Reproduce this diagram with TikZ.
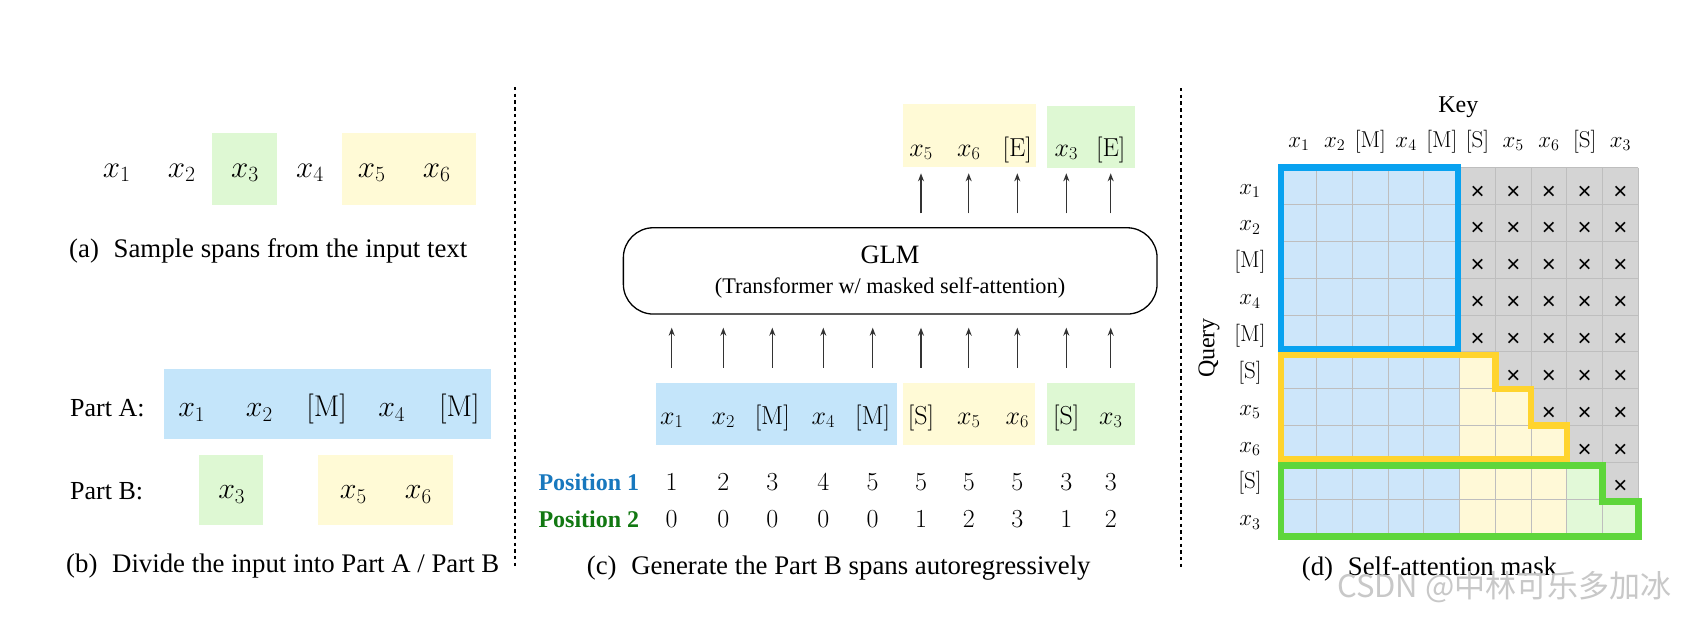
\RequirePackage{fix-cm}
\documentclass[tikz,border=0pt]{standalone}
\usepackage[no-math]{fontspec}
\setmainfont{Liberation Serif}
\newfontfamily\sansx{Liberation Sans}
\newfontfamily\cjk{Noto Sans CJK SC}
\usetikzlibrary{arrows.meta,calc}
\newcommand{\fsz}[1]{\fontsize{#1}{#1}\selectfont}
\definecolor{boxblue}{HTML}{C4E5FA}
\definecolor{boxyellow}{HTML}{FFFAD6}
\definecolor{boxgreen}{HTML}{DEF8D3}
\definecolor{cellblue}{HTML}{CDE6FA}
\definecolor{cellyellow}{HTML}{FFF9D7}
\definecolor{cellgreen}{HTML}{E2F9D8}
\definecolor{cellgray}{HTML}{D4D4D4}
\definecolor{gridline}{HTML}{BEBEBE}
\definecolor{bordblue}{HTML}{08A2F0}
\definecolor{bordyellow}{HTML}{FFD42E}
\definecolor{bordgreen}{HTML}{5ED63B}
\definecolor{posblue}{HTML}{1878BE}
\definecolor{posgreen}{HTML}{127812}
\definecolor{wm}{HTML}{C8C8C8}
\tikzset{
  tokA/.style={inner sep=0pt, anchor=base, font=\fsz{31}},
  tokB/.style={inner sep=0pt, anchor=base, font=\fsz{30}},
  tokC/.style={inner sep=0pt, anchor=base, font=\fsz{26}},
  tokD/.style={inner sep=0pt, anchor=base, font=\fsz{23}},
  txt/.style={inner sep=0pt, anchor=base west, font=\fsz{26.8}},
  postxt/.style={inner sep=0pt, anchor=base west, font=\fsz{24}\bfseries},
  arr/.style={-{Stealth[length=8pt,width=6pt]}, line width=1.3pt, black!80},
  dotline/.style={line width=2.2pt, dash pattern=on 3.4pt off 3.3pt},
  glmbox/.style={draw, rounded corners=30pt, line width=1.3pt, inner sep=0pt},
  xmark/.style={inner sep=0pt, anchor=base, font=\sansx\fsz{24}},
  gridl/.style={gridline, line width=1pt},
  bord/.style={line width=6.6pt, line join=miter}
}
\begin{document}
\begin{tikzpicture}[x=1pt,y=-1pt]
\useasboundingbox (0,0) rectangle (1694,616);
\fill[white] (0,0) rectangle (1694,616);

% ---------------- panel (a)
\fill[boxgreen] (211.7,133.3) rectangle (276.7,205);
\fill[boxyellow] (341.7,133.3) rectangle (476,205);
\node[tokA] (a1) at (116.7,177) {$x_1$};
\node[tokA] (a2) at (181.7,177) {$x_2$};
\node[tokA] (a3) at (245,177) {$x_3$};
\node[tokA] (a4) at (310,177) {$x_4$};
\node[tokA] (a5) at (371.7,177) {$x_5$};
\node[tokA] (a6) at (436.7,177) {$x_6$};
\node[txt] (capa) at (69,257) {(a)\hspace{0.55em}Sample spans from the input text};

% ---------------- panel (b)
\fill[boxblue] (164,369.3) rectangle (490.7,439.3);
\fill[boxgreen] (199,455) rectangle (263.3,525);
\fill[boxyellow] (318.3,455) rectangle (453.3,525);
\node[txt, font=\fsz{26}] (partA) at (70,416.5) {Part A:};
\node[tokB] (b1) at (191.7,416.5) {$x_1$};
\node[tokB] (b2) at (259.3,416.5) {$x_2$};
\node[tokB] (b3) at (326.7,416.5) {$[\mathrm{M}]$};
\node[tokB] (b4) at (391.7,416.5) {$x_4$};
\node[tokB] (b5) at (459.3,416.5) {$[\mathrm{M}]$};
\node[txt, font=\fsz{26}] (partB) at (70,499) {Part B:};
\node[tokB] (b6) at (231.7,498.5) {$x_3$};
\node[tokB] (b7) at (353.3,498.5) {$x_5$};
\node[tokB] (b8) at (418.3,498.5) {$x_6$};
\node[txt] (capb) at (66,572) {(b)\hspace{0.55em}Divide the input into Part A / Part B};

% separators
\draw[dotline] (515,87) -- (515,567);
\draw[dotline] (1181,88) -- (1181,568);

% ---------------- panel (c)
\fill[boxyellow] (903.3,104.3) rectangle (1036,166.7);
\fill[boxgreen] (1047.3,106) rectangle (1134.5,167.7);
\node[tokC] (o1) at (921,156) {$x_5$};
\node[tokC] (o2) at (968.7,156) {$x_6$};
\node[tokC] (o3) at (1017.3,156) {$[\mathrm{E}]$};
\node[tokC] (o4) at (1066.3,156) {$x_3$};
\node[tokC] (o5) at (1110.7,156) {$[\mathrm{E}]$};

\node[glmbox, minimum width=533.7pt, minimum height=86.3pt] (glm) at (890.2,270.9) {};
\node[inner sep=0pt, anchor=base, font=\fsz{26.5}] (glmt) at (890,263.3) {GLM};
\node[inner sep=0pt, anchor=base, font=\fsz{22.3}] (glms) at (890,293.3) {(Transformer w/ masked self-attention)};

\coordinate (upB) at (0,213.3);
\coordinate (upT) at (0,173.3);
\foreach \n in {o1,o2,o3,o4,o5}{
  \draw[arr] (\n |- upB) -- (\n |- upT);
}

\fill[boxblue] (656,383.3) rectangle (896.7,445);
\fill[boxyellow] (903.3,383.3) rectangle (1035,445);
\fill[boxgreen] (1046.7,383.3) rectangle (1134.7,445);
\foreach \i/\x/\t in {1/671.7/x_1, 2/723.3/x_2, 3/772.3/[\mathrm{M}], 4/823.3/x_4, 5/872.7/[\mathrm{M}],
                      6/921/[\mathrm{S}], 7/968.7/x_5, 8/1017.3/x_6, 9/1066.3/[\mathrm{S}], 10/1110.7/x_3}{
  \node[tokC] (i\i) at (\x,424) {$\t$};
}
\coordinate (loB) at (0,367.7);
\coordinate (loT) at (0,327.7);
\foreach \n in {1,...,10}{
  \draw[arr] (i\n |- loB) -- (i\n |- loT);
}

\node[postxt, text=posblue] (pos1) at (538.3,490) {Position 1};
\node[postxt, text=posgreen] (pos2) at (538.3,527) {Position 2};
\foreach \i/\p/\q in {1/1/0, 2/2/0, 3/3/0, 4/4/0, 5/5/0, 6/5/1, 7/5/2, 8/5/3, 9/3/1, 10/3/2}{
  \node[tokC] (p\i) at (i\i |- pos1.base) {$\p$};
  \node[tokC] (q\i) at (i\i |- pos2.base) {$\q$};
}
\node[txt] (capc) at (586.7,574) {(c)\hspace{0.55em}Generate the Part B spans autoregressively};

% ---------------- panel (d)
\def\gx{1281}\def\gw{35.73}\def\gy{167.7}\def\gh{36.85}
\fill[cellblue] (\gx,\gy) rectangle ({\gx+5*\gw},{\gy+10*\gh});
\fill[cellgray] ({\gx+5*\gw},\gy) rectangle ({\gx+10*\gw},{\gy+10*\gh});
\fill[cellyellow] ({\gx+5*\gw},{\gy+5*\gh}) -- ({\gx+6*\gw},{\gy+5*\gh}) -- ({\gx+6*\gw},{\gy+6*\gh})
  -- ({\gx+7*\gw},{\gy+6*\gh}) -- ({\gx+7*\gw},{\gy+7*\gh}) -- ({\gx+8*\gw},{\gy+7*\gh})
  -- ({\gx+8*\gw},{\gy+10*\gh}) -- ({\gx+5*\gw},{\gy+10*\gh}) -- cycle;
\fill[cellgreen] ({\gx+8*\gw},{\gy+8*\gh}) -- ({\gx+9*\gw},{\gy+8*\gh}) -- ({\gx+9*\gw},{\gy+9*\gh})
  -- ({\gx+10*\gw},{\gy+9*\gh}) -- ({\gx+10*\gw},{\gy+10*\gh}) -- ({\gx+8*\gw},{\gy+10*\gh}) -- cycle;
\foreach \k in {0,...,10}{
  \draw[gridl] ({\gx+\k*\gw},\gy) -- ({\gx+\k*\gw},{\gy+10*\gh});
  \draw[gridl] (\gx,{\gy+\k*\gh}) -- ({\gx+10*\gw},{\gy+\k*\gh});
}
\foreach \r/\cs in {0/5,1/5,2/5,3/5,4/5,5/6,6/7,7/8,8/9}{
  \foreach \c in {\cs,...,9}{
    \node[xmark] (m-\r-\c) at ({\gx+(\c+0.5)*\gw},{\gy+(\r+0.5)*\gh+13}) {×};
  }
}
\draw[bord, bordblue] (\gx,\gy) -- ({\gx+5*\gw-1.5},\gy) -- ({\gx+5*\gw-1.5},{\gy+5*\gh-3})
  -- (\gx,{\gy+5*\gh-3}) -- cycle;
\draw[bord, bordyellow] (\gx,{\gy+5*\gh+3}) -- ({\gx+6*\gw},{\gy+5*\gh+3}) -- ({\gx+6*\gw},{\gy+6*\gh})
  -- ({\gx+7*\gw},{\gy+6*\gh}) -- ({\gx+7*\gw},{\gy+7*\gh}) -- ({\gx+8*\gw},{\gy+7*\gh})
  -- ({\gx+8*\gw},{\gy+8*\gh-3}) -- (\gx,{\gy+8*\gh-3}) -- cycle;
\draw[bord, bordgreen] (\gx,{\gy+8*\gh+3}) -- ({\gx+9*\gw},{\gy+8*\gh+3}) -- ({\gx+9*\gw},{\gy+9*\gh+2})
  -- ({\gx+10*\gw},{\gy+9*\gh+2}) -- ({\gx+10*\gw},{\gy+10*\gh}) -- (\gx,{\gy+10*\gh}) -- cycle;
\node[inner sep=0pt, anchor=base, font=\fsz{24}] (key) at (1458.3,112) {Key};
\node[inner sep=0pt, rotate=90, font=\fsz{24}] (query) at (1209,348) {Query};
\foreach \c/\t in {0/x_1, 1/x_2, 2/[\mathrm{M}], 3/x_4, 4/[\mathrm{M}], 5/[\mathrm{S}], 6/x_5, 7/x_6, 8/[\mathrm{S}], 9/x_3}{
  \node[tokD] (k\c) at ({\gx+(\c+0.5)*\gw},147) {$\t$};
  \node[tokD] (r\c) at (1250,{\gy+(\c+0.5)*\gh+8}) {$\t$};
}
\node[txt] (capd) at (1301.7,575) {(d)\hspace{0.55em}Self-attention mask};

\node[inner sep=0pt, anchor=base west, font=\cjk\fsz{31}, text=wm] (wmk) at (1337,597) {CSDN @中林可乐多加冰};
\end{tikzpicture}
\end{document}
